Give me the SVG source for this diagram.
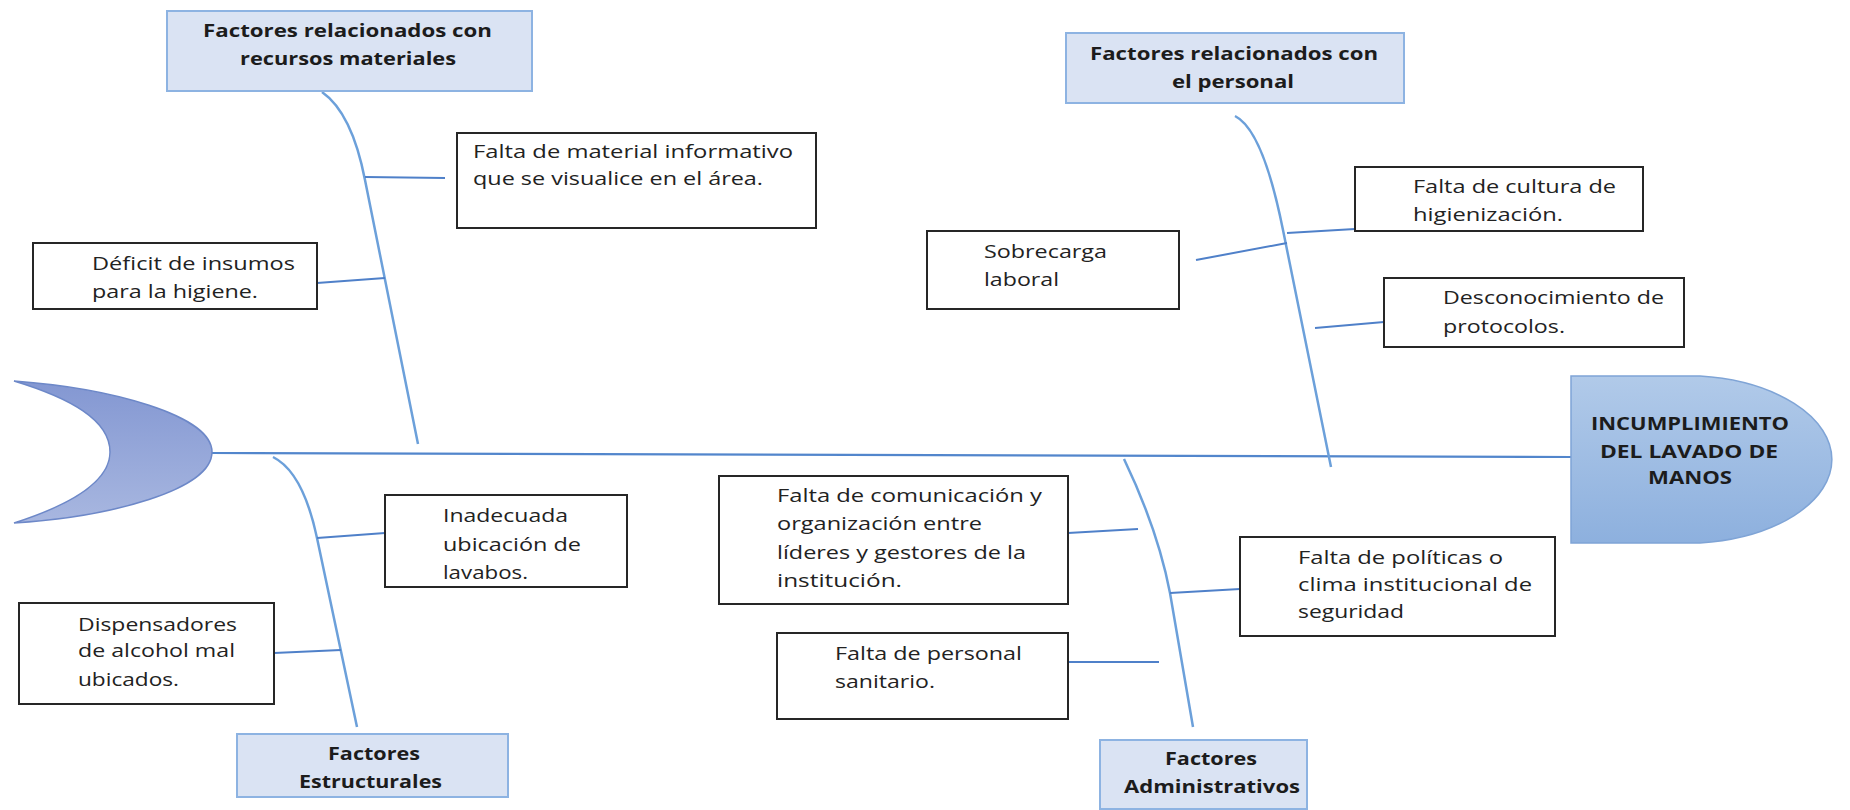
<svg xmlns="http://www.w3.org/2000/svg" width="1850" height="810" viewBox="0 0 1850 810">
<defs>
<linearGradient id="gTail" x1="0" y1="0" x2="0" y2="1">
<stop offset="0" stop-color="#8397d2"/>
<stop offset="1" stop-color="#a8b7e0"/>
</linearGradient>
<linearGradient id="gHead" x1="0" y1="0" x2="0" y2="1">
<stop offset="0" stop-color="#b1cae9"/>
<stop offset="1" stop-color="#8db0de"/>
</linearGradient>
<style>
.hdr{fill:#dae3f3;stroke:#8db3e2;stroke-width:2}
.box{fill:#ffffff;stroke:#262626;stroke-width:2}
.t{font-family:"Open Sans","DejaVu Sans",sans-serif;font-size:17.5px;fill:#222222}
.b{font-weight:bold;fill:#1c1c1c}
.bone{fill:none;stroke:#6ca0da;stroke-width:2.5}
.conn{fill:none;stroke:#4f80c9;stroke-width:2}
.spine{fill:none;stroke:#5286cc;stroke-width:2.2}
</style>
</defs>
<rect width="1850" height="810" fill="#ffffff"/>

<g id="connectors">
<path class="spine" d="M212,453 L1571,457"/>
<path class="bone" d="M322,92 Q352,113 365,180 L418,444"/>
<path class="bone" d="M1235,116 Q1263,130 1283,230 L1331,467"/>
<path class="bone" d="M273,457 Q303,472 317,538 L357,727"/>
<path class="bone" d="M1124,459 Q1158,530 1170,593 L1193,727"/>
<path class="conn" d="M365,177 L445,178"/>
<path class="conn" d="M317,283 L385,278"/>
<path class="conn" d="M1196,260 L1287,243"/>
<path class="conn" d="M1287,233 L1355,229"/>
<path class="conn" d="M1315,328 L1384,322"/>
<path class="conn" d="M317,538 L385,533"/>
<path class="conn" d="M274,653 L341,650"/>
<path class="conn" d="M1068,533 L1138,529"/>
<path class="conn" d="M1170,593 L1240,589"/>
<path class="conn" d="M1068,662 L1159,662"/>
</g>

<g id="tail">
<path d="M14,381 C110,388 212,415 212,452 C212,490 110,517 14,523 C70,505 110,482 110,452 C110,420 70,398 14,381 Z" fill="url(#gTail)" stroke="#6d88c8" stroke-width="1.5"/>
</g>

<g id="head">
<path d="M1571,376 H1700 A148,84 0 0 1 1700,543 H1571 Z" fill="url(#gHead)" stroke="#7fa4d6" stroke-width="1.5"/>
<text class="t b" x="1591" y="430" textLength="198" lengthAdjust="spacingAndGlyphs">INCUMPLIMIENTO</text>
<text class="t b" x="1600" y="458" textLength="178" lengthAdjust="spacingAndGlyphs">DEL LAVADO DE</text>
<text class="t b" x="1648" y="484" textLength="84" lengthAdjust="spacingAndGlyphs">MANOS</text>
</g>

<g id="cat-materiales">
<rect class="hdr" x="167" y="11" width="365" height="80"/>
<text class="t b" x="203" y="37" textLength="289" lengthAdjust="spacingAndGlyphs">Factores relacionados con</text>
<text class="t b" x="240" y="65" textLength="216" lengthAdjust="spacingAndGlyphs">recursos materiales</text>
</g>

<g id="cat-personal">
<rect class="hdr" x="1066" y="33" width="338" height="70"/>
<text class="t b" x="1090" y="60" textLength="288" lengthAdjust="spacingAndGlyphs">Factores relacionados con</text>
<text class="t b" x="1172" y="88" textLength="122" lengthAdjust="spacingAndGlyphs">el personal</text>
</g>

<g id="cat-estructurales">
<rect class="hdr" x="237" y="734" width="271" height="63"/>
<text class="t b" x="328" y="760" textLength="92" lengthAdjust="spacingAndGlyphs">Factores</text>
<text class="t b" x="299" y="788" textLength="143" lengthAdjust="spacingAndGlyphs">Estructurales</text>
</g>

<g id="cat-administrativos">
<rect class="hdr" x="1100" y="740" width="207" height="69"/>
<text class="t b" x="1165" y="765" textLength="92" lengthAdjust="spacingAndGlyphs">Factores</text>
<text class="t b" x="1124" y="793" textLength="176" lengthAdjust="spacingAndGlyphs">Administrativos</text>
</g>

<g id="c-material-informativo">
<rect class="box" x="457" y="133" width="359" height="95"/>
<text class="t" x="473" y="158" textLength="320" lengthAdjust="spacingAndGlyphs">Falta de material informativo</text>
<text class="t" x="473" y="185" textLength="290" lengthAdjust="spacingAndGlyphs">que se visualice en el área.</text>
</g>

<g id="c-deficit-insumos">
<rect class="box" x="33" y="243" width="284" height="66"/>
<text class="t" x="92" y="270" textLength="203" lengthAdjust="spacingAndGlyphs">Déficit de insumos</text>
<text class="t" x="92" y="298" textLength="166" lengthAdjust="spacingAndGlyphs">para la higiene.</text>
</g>

<g id="c-sobrecarga">
<rect class="box" x="927" y="231" width="252" height="78"/>
<text class="t" x="984" y="258" textLength="123" lengthAdjust="spacingAndGlyphs">Sobrecarga</text>
<text class="t" x="984" y="286" textLength="75" lengthAdjust="spacingAndGlyphs">laboral</text>
</g>

<g id="c-cultura">
<rect class="box" x="1355" y="167" width="288" height="64"/>
<text class="t" x="1413" y="193" textLength="203" lengthAdjust="spacingAndGlyphs">Falta de cultura de</text>
<text class="t" x="1413" y="221" textLength="150" lengthAdjust="spacingAndGlyphs">higienización.</text>
</g>

<g id="c-protocolos">
<rect class="box" x="1384" y="278" width="300" height="69"/>
<text class="t" x="1443" y="304" textLength="221" lengthAdjust="spacingAndGlyphs">Desconocimiento de</text>
<text class="t" x="1443" y="333" textLength="122" lengthAdjust="spacingAndGlyphs">protocolos.</text>
</g>

<g id="c-lavabos">
<rect class="box" x="385" y="495" width="242" height="92"/>
<text class="t" x="443" y="522" textLength="125" lengthAdjust="spacingAndGlyphs">Inadecuada</text>
<text class="t" x="443" y="551" textLength="138" lengthAdjust="spacingAndGlyphs">ubicación de</text>
<text class="t" x="443" y="579" textLength="85" lengthAdjust="spacingAndGlyphs">lavabos.</text>
</g>

<g id="c-dispensadores">
<rect class="box" x="19" y="603" width="255" height="101"/>
<text class="t" x="78" y="631" textLength="159" lengthAdjust="spacingAndGlyphs">Dispensadores</text>
<text class="t" x="78" y="657" textLength="157" lengthAdjust="spacingAndGlyphs">de alcohol mal</text>
<text class="t" x="78" y="686" textLength="101" lengthAdjust="spacingAndGlyphs">ubicados.</text>
</g>

<g id="c-comunicacion">
<rect class="box" x="719" y="476" width="349" height="128"/>
<text class="t" x="777" y="502" textLength="265" lengthAdjust="spacingAndGlyphs">Falta de comunicación y</text>
<text class="t" x="777" y="530" textLength="205" lengthAdjust="spacingAndGlyphs">organización entre</text>
<text class="t" x="777" y="559" textLength="249" lengthAdjust="spacingAndGlyphs">líderes y gestores de la</text>
<text class="t" x="777" y="587" textLength="125" lengthAdjust="spacingAndGlyphs">institución.</text>
</g>

<g id="c-personal-sanitario">
<rect class="box" x="777" y="633" width="291" height="86"/>
<text class="t" x="835" y="660" textLength="187" lengthAdjust="spacingAndGlyphs">Falta de personal</text>
<text class="t" x="835" y="688" textLength="100" lengthAdjust="spacingAndGlyphs">sanitario.</text>
</g>

<g id="c-politicas">
<rect class="box" x="1240" y="537" width="315" height="99"/>
<text class="t" x="1298" y="564" textLength="205" lengthAdjust="spacingAndGlyphs">Falta de políticas o</text>
<text class="t" x="1298" y="591" textLength="234" lengthAdjust="spacingAndGlyphs">clima institucional de</text>
<text class="t" x="1298" y="618" textLength="106" lengthAdjust="spacingAndGlyphs">seguridad</text>
</g>
</svg>
